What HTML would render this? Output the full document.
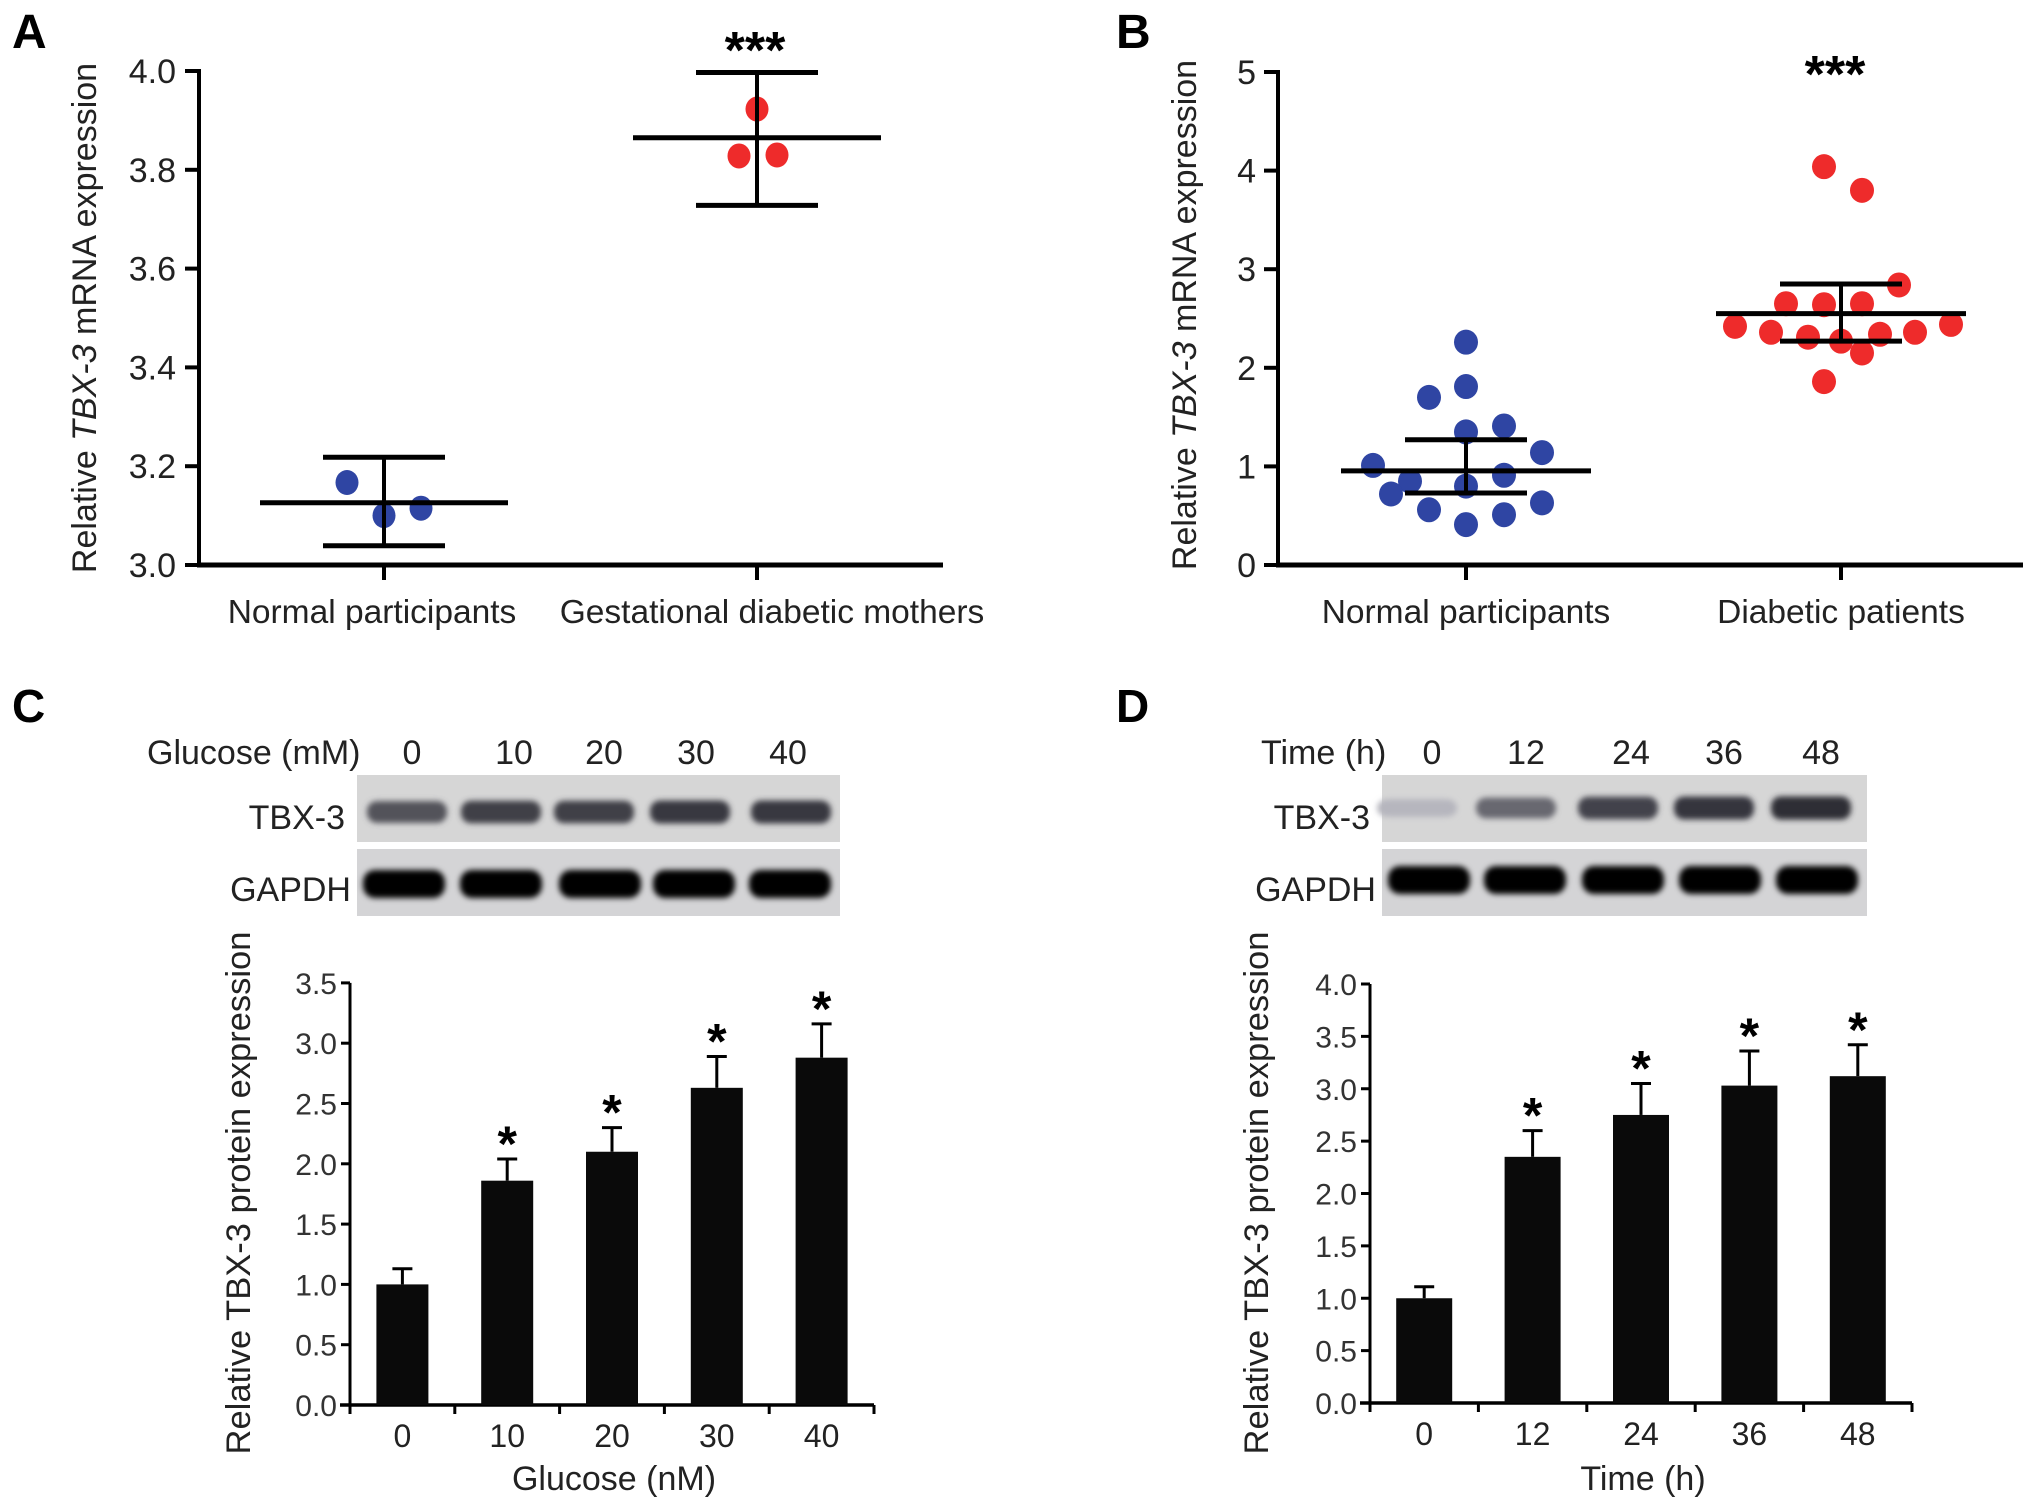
<!DOCTYPE html>
<html><head><meta charset="utf-8">
<style>
html,body{margin:0;padding:0;background:#fff;}
svg{display:block;font-family:"Liberation Sans",Arial,sans-serif;}
</style></head>
<body>
<svg id="fig" width="2031" height="1507" viewBox="0 0 2031 1507" xmlns="http://www.w3.org/2000/svg">
<defs>
<filter id="blur" x="-20%" y="-80%" width="140%" height="260%"><feGaussianBlur stdDeviation="3"/></filter>
</defs>
<g id="panelA"></g>
<g id="panelB"></g>
<g id="panelC"></g>
<g id="panelD"></g>
</svg>
<script>
// ---------- Panel A data ----------
const aCategories = ["Normal participants", "Gestational diabetic mothers"];
const aNormalPoints = [3.167, 3.10, 3.115];
const aGdmPoints = [3.923, 3.828, 3.83];
const aMeans = [3.126, 3.865];
const aErrHigh = [3.218, 3.997];
const aErrLow = [3.039, 3.728];
const aTicks = [3.0, 3.2, 3.4, 3.6, 3.8, 4.0];
const aTickLabels = ["3.0", "3.2", "3.4", "3.6", "3.8", "4.0"];

// ---------- Panel B data ----------
const bCategories = ["Normal participants", "Diabetic patients"];
const bNormalPoints = [2.26, 1.81, 1.70, 1.35, 1.41, 1.14, 1.01, 0.85, 0.91, 0.80, 0.72, 0.56, 0.51, 0.63, 0.41];
const bDiabeticPoints = [4.04, 3.80, 2.84, 2.65, 2.64, 2.65, 2.42, 2.36, 2.31, 2.27, 2.15, 2.34, 2.36, 2.44, 1.86];
const bMeans = [0.955, 2.55];
const bErrHigh = [1.27, 2.85];
const bErrLow = [0.73, 2.27];
const bTicks = [0, 1, 2, 3, 4, 5];
const bTickLabels = ["0", "1", "2", "3", "4", "5"];

// ---------- Panel C data ----------
const cCategories = ["0", "10", "20", "30", "40"];
const cValues = [1.0, 1.86, 2.10, 2.63, 2.88];
const cErrors = [0.13, 0.18, 0.20, 0.26, 0.28];
const cSignificant = [false, true, true, true, true];
const cTicks = [0, 0.5, 1.0, 1.5, 2.0, 2.5, 3.0, 3.5];
const cTickLabels = ["0.0", "0.5", "1.0", "1.5", "2.0", "2.5", "3.0", "3.5"];
const cTbxBand = [0.72, 0.82, 0.82, 0.86, 0.86];

// ---------- Panel D data ----------
const dCategories = ["0", "12", "24", "36", "48"];
const dValues = [1.0, 2.35, 2.75, 3.03, 3.12];
const dErrors = [0.11, 0.25, 0.30, 0.33, 0.30];
const dSignificant = [false, true, true, true, true];
const dTicks = [0, 0.5, 1.0, 1.5, 2.0, 2.5, 3.0, 3.5, 4.0];
const dTickLabels = ["0.0", "0.5", "1.0", "1.5", "2.0", "2.5", "3.0", "3.5", "4.0"];
const dTbxBand = [0.18, 0.6, 0.8, 0.88, 0.92];

const NS = "http://www.w3.org/2000/svg";
function mk(parent, tag, attrs, text) {
  const e = document.createElementNS(NS, tag);
  for (const k in attrs) e.setAttribute(k, attrs[k]);
  if (text !== undefined) e.textContent = text;
  parent.appendChild(e);
  return e;
}
function line(p, x1, y1, x2, y2, w) {
  return mk(p, "line", {x1: x1, y1: y1, x2: x2, y2: y2, stroke: "#000", "stroke-width": w || 4});
}

// ================= Panel A =================
(function () {
  const g = document.getElementById("panelA");
  const axX = 199, axEnd = 943;
  const yA = v => 565 - (v - 3.0) * 494;
  const xCat = [384, 757];
  const lbl = mk(g, "text", {x: 12, y: 48, "font-size": 48, "font-weight": "bold"}, "A");
  
  
  const ya = line(g, axX, yA(4.0) - 2, axX, yA(3.0) + 2, 4);
  
  
  const xa = line(g, axX - 2, yA(3.0), axEnd, yA(3.0), 5);
  
  
  aTicks.forEach((t, i) => {
    line(g, axX - 14, yA(t), axX, yA(t), 4);
    const tl = mk(g, "text", {x: 176, y: yA(t) + 12, "font-size": 34, "text-anchor": "end", fill: "#222"}, aTickLabels[i]);
    
    
  });
  aCategories.forEach((c, i) => {
    line(g, xCat[i], yA(3.0), xCat[i], yA(3.0) + 15, 4);
    const tl = mk(g, "text", {x: xCat[i] + (i === 0 ? -12 : 15), y: 623, "font-size": 33.5, "text-anchor": "middle", fill: "#222"}, c);
    
    
  });
  const yt = mk(g, "text", {x: 0, y: 0, "font-size": 34, "text-anchor": "middle", fill: "#222",
    transform: "translate(96,318) rotate(-90)"});
  yt.innerHTML = 'Relative <tspan font-style="italic">TBX-3</tspan> mRNA expression';
  
  
  const groups = [aNormalPoints, aGdmPoints];
  const colors = ["#2f45a3", "#ee2b2b"];
  const offsA = [[-37, 0, 37], [0, -18, 20]];
  const halfMean = 124, halfCap = 61;
  groups.forEach((pts, gi) => {
    const cx = xCat[gi];
    pts.forEach((v, k) => {
      const d = mk(g, "ellipse", {cx: cx + offsA[gi][k], cy: yA(v), rx: 11.5, ry: 12.5, fill: colors[gi]});
      
      
    });
    const m = line(g, cx - halfMean, yA(aMeans[gi]), cx + halfMean, yA(aMeans[gi]), 5);
    
    
    line(g, cx, yA(aErrHigh[gi]), cx, yA(aErrLow[gi]), 4);
    line(g, cx - halfCap, yA(aErrHigh[gi]), cx + halfCap, yA(aErrHigh[gi]), 5);
    line(g, cx - halfCap, yA(aErrLow[gi]), cx + halfCap, yA(aErrLow[gi]), 5);
  });
  const st = mk(g, "text", {x: xCat[1] - 2, y: 68, "font-size": 52, "font-weight": "bold", "text-anchor": "middle"}, "***");
  
  
})();

// ================= Panel B =================
(function () {
  const g = document.getElementById("panelB");
  const axX = 1278, axEnd = 2023;
  const yB = v => 565 - v * 98.6;
  const xCat = [1466, 1841];
  const lbl = mk(g, "text", {x: 1116, y: 48, "font-size": 48, "font-weight": "bold"}, "B");
  
  
  const ya = line(g, axX, yB(5) - 2, axX, yB(0) + 2, 4);
  
  
  const xa = line(g, axX - 2, yB(0), axEnd, yB(0), 5);
  
  
  bTicks.forEach((t, i) => {
    line(g, axX - 14, yB(t), axX, yB(t), 4);
    const tl = mk(g, "text", {x: 1256, y: yB(t) + 12, "font-size": 34, "text-anchor": "end", fill: "#222"}, bTickLabels[i]);
    
    
  });
  bCategories.forEach((c, i) => {
    line(g, xCat[i], yB(0), xCat[i], yB(0) + 15, 4);
    const tl = mk(g, "text", {x: xCat[i], y: 623, "font-size": 33.5, "text-anchor": "middle", fill: "#222"}, c);
    
    
  });
  const yt = mk(g, "text", {x: 0, y: 0, "font-size": 34, "text-anchor": "middle", fill: "#222",
    transform: "translate(1196,315) rotate(-90)"});
  yt.innerHTML = 'Relative <tspan font-style="italic">TBX-3</tspan> mRNA expression';
  
  
  const offN = [0, 0, -37, 0, 38, 76, -93, -56, 38, 0, -75, -37, 38, 76, 0];
  const offD = [-17, 21, 58, -55, -17, 21, -106, -70, -33, 0, 21, 39, 74, 110, -17];
  const groups = [bNormalPoints, bDiabeticPoints];
  const offs = [offN, offD];
  const colors = ["#2f45a3", "#ee2b2b"];
  groups.forEach((pts, gi) => {
    const cx = xCat[gi];
    pts.forEach((v, k) => {
      const d = mk(g, "ellipse", {cx: cx + offs[gi][k], cy: yB(v), rx: 12, ry: 12.5, fill: colors[gi]});
      
      
    });
  });
  groups.forEach((pts, gi) => {
    const cx = xCat[gi];
    const m = line(g, cx - 125, yB(bMeans[gi]), cx + 125, yB(bMeans[gi]), 5);
    
    
    line(g, cx, yB(bErrHigh[gi]), cx, yB(bErrLow[gi]), 4);
    line(g, cx - 61, yB(bErrHigh[gi]), cx + 61, yB(bErrHigh[gi]), 5);
    line(g, cx - 61, yB(bErrLow[gi]), cx + 61, yB(bErrLow[gi]), 5);
  });
  const st = mk(g, "text", {x: xCat[1] - 6, y: 92, "font-size": 52, "font-weight": "bold", "text-anchor": "middle"}, "***");
  
  
})();

// ================= Bar panels (C & D) =================
function barPanel(g, cfg) {
  const lbl = mk(g, "text", {x: cfg.letterX, y: 722, "font-size": 46, "font-weight": "bold"}, cfg.letter);
  
  
  const hd = mk(g, "text", {x: cfg.headX, y: 764, "font-size": 34, fill: "#222"}, cfg.head);
  
  
  cfg.cats.forEach((c, i) => {
    const t = mk(g, "text", {x: cfg.laneX[i], y: 764, "font-size": 34, "text-anchor": "middle", fill: "#222"}, c);
    
    
  });
  const b1 = mk(g, "rect", {x: cfg.boxX, y: 775, width: cfg.boxW, height: 67, fill: "#d6d6d6"});
  
  
  const b2 = mk(g, "rect", {x: cfg.boxX, y: 849, width: cfg.boxW, height: 67, fill: "#d4d4d6"});
  
  
  const t1 = mk(g, "text", {x: cfg.boxX - 12, y: 829, "font-size": 34, "text-anchor": "end", fill: "#222"}, "TBX-3");
  
  
  const t2 = mk(g, "text", {x: cfg.boxX - 6, y: 901, "font-size": 34, "text-anchor": "end", fill: "#222"}, "GAPDH");
  
  
  cfg.tbxBand.forEach((v, i) => {
    const shade = Math.round(215 - v * 185);
    const e = mk(g, "rect", {x: cfg.bandX[i] - 40, y: cfg.tbxY - 8 - v * 4, width: 80, height: 16 + v * 8, rx: 10,
      fill: "rgb(" + shade + "," + shade + "," + (shade + 8) + ")", filter: "url(#blur)"});
    
    
    const e2 = mk(g, "rect", {x: cfg.gBandX[i] - 41, y: cfg.gY - 14, width: 82, height: 28, rx: 12, fill: "#050505", filter: "url(#blur)"});
    
    
  });
  const y = v => cfg.y0 - v * cfg.unit;
  const step = (cfg.axEnd - cfg.axX) / cfg.cats.length;
  const xc = i => cfg.axX + step * (i + 0.5);
  const ya = line(g, cfg.axX, y(cfg.ticks[cfg.ticks.length - 1]), cfg.axX, cfg.y0 + 1, 3);
  
  
  const xa = line(g, cfg.axX - 10, cfg.y0, cfg.axEnd, cfg.y0, 3.5);
  
  
  cfg.ticks.forEach((t, i) => {
    line(g, cfg.axX - 9, y(t), cfg.axX, y(t), 3);
    const tl = mk(g, "text", {x: cfg.axX - 13, y: y(t) + 11, "font-size": 30, "text-anchor": "end", fill: "#333"}, cfg.tickLabels[i]);
    
    
  });
  for (let i = 0; i <= cfg.cats.length; i++) line(g, cfg.axX + step * i, cfg.y0, cfg.axX + step * i, cfg.y0 + 9, 3);
  cfg.vals.forEach((v, i) => {
    const cx = xc(i);
    const eTop = y(v + cfg.errs[i]);
    line(g, cx, y(v), cx, eTop, 3);
    line(g, cx - 10, eTop, cx + 10, eTop, 3);
    const b = mk(g, "rect", {x: cx - cfg.barW / 2, y: y(v), width: cfg.barW, height: cfg.y0 - y(v), fill: "#0a0a0a"});
    
    
    if (cfg.sig[i]) {
      const s = mk(g, "text", {x: cx, y: eTop + 2, "font-size": 50, "font-weight": "bold", "text-anchor": "middle"}, "*");
      
      
    }
    const xl = mk(g, "text", {x: cx, y: cfg.y0 + 42, "font-size": 32, "text-anchor": "middle", fill: "#222"}, cfg.cats[i]);
    
    
  });
  const xt = mk(g, "text", {x: (cfg.axX + cfg.axEnd) / 2 + 2, y: 1490, "font-size": 34, "text-anchor": "middle", fill: "#222"}, cfg.xTitle);
  
  
  const yt = mk(g, "text", {x: 0, y: 0, "font-size": 34.5, "text-anchor": "middle", fill: "#222",
    transform: "translate(" + cfg.yTitleX + ",1193) rotate(-90)"}, "Relative TBX-3 protein expression");
  
  
}

barPanel(document.getElementById("panelC"), {
  letter: "C", letterX: 12, head: "Glucose (mM)", headX: 147,
  cats: cCategories, laneX: [412, 514, 604, 696, 788],
  boxX: 357, boxW: 483, tbxBand: cTbxBand, tbxY: 812, gY: 884,
  bandX: [407, 501, 594, 690, 791], gBandX: [404, 501, 600, 694, 790],
  axX: 350, axEnd: 874, y0: 1405, unit: 120.6, barW: 52,
  vals: cValues, errs: cErrors, sig: cSignificant,
  ticks: cTicks, tickLabels: cTickLabels, xTitle: "Glucose (nM)", yTitleX: 250
});
barPanel(document.getElementById("panelD"), {
  letter: "D", letterX: 1116, head: "Time (h)", headX: 1261,
  cats: dCategories, laneX: [1432, 1526, 1631, 1724, 1821],
  boxX: 1382, boxW: 485, tbxBand: dTbxBand, tbxY: 808, gY: 880,
  bandX: [1417, 1516, 1618, 1714, 1811], gBandX: [1429, 1525, 1623, 1720, 1817],
  axX: 1370, axEnd: 1912, y0: 1403, unit: 104.75, barW: 56,
  vals: dValues, errs: dErrors, sig: dSignificant,
  ticks: dTicks, tickLabels: dTickLabels, xTitle: "Time (h)", yTitleX: 1268
});
</script>
</body></html>
